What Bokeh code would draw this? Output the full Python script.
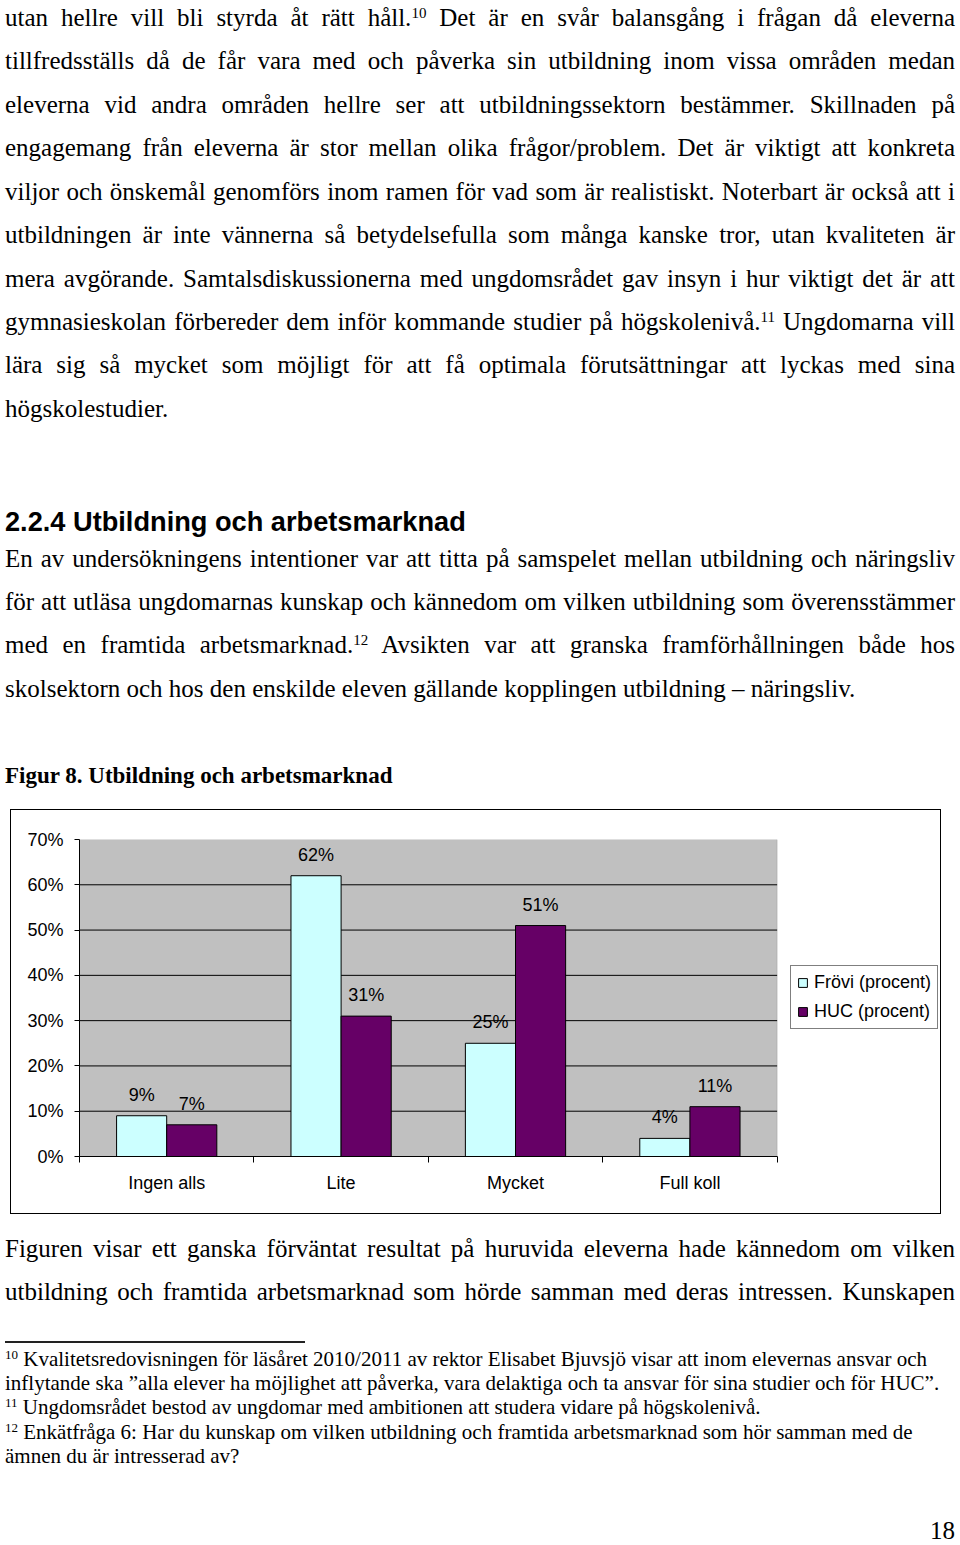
from bokeh.plotting import figure
from bokeh.models import (ColumnDataSource, Range1d, FixedTicker, NumeralTickFormatter,
                          Legend, LegendItem, Div, Spacer, BoxAnnotation)
from bokeh.layouts import column, row
from bokeh.transform import dodge
from bokeh.core.properties import value
from bokeh.embed import file_html
from bokeh.resources import INLINE

# ---------------- data ----------------
categories = ["Ingen alls", "Lite", "Mycket", "Full koll"]
frovi = [0.09, 0.62, 0.25, 0.04]
huc = [0.07, 0.31, 0.51, 0.11]
series_names = ["Frövi (procent)", "HUC (procent)"]
y_ticks = [0.0, 0.1, 0.2, 0.3, 0.4, 0.5, 0.6, 0.7]

top_lines = [
    "utan hellre vill bli styrda åt rätt håll.<sup>10</sup> Det är en svår balansgång i frågan då eleverna",
    "tillfredsställs då de får vara med och påverka sin utbildning inom vissa områden medan",
    "eleverna vid andra områden hellre ser att utbildningssektorn bestämmer. Skillnaden på",
    "engagemang från eleverna är stor mellan olika frågor/problem. Det är viktigt att konkreta",
    "viljor och önskemål genomförs inom ramen för vad som är realistiskt. Noterbart är också att i",
    "utbildningen är inte vännerna så betydelsefulla som många kanske tror, utan kvaliteten är",
    "mera avgörande. Samtalsdiskussionerna med ungdomsrådet gav insyn i hur viktigt det är att",
    "gymnasieskolan förbereder dem inför kommande studier på högskolenivå.<sup>11</sup> Ungdomarna vill",
    "lära sig så mycket som möjligt för att få optimala förutsättningar att lyckas med sina",
    "högskolestudier.",
]
heading = "2.2.4 Utbildning och arbetsmarknad"
mid_lines = [
    "En av undersökningens intentioner var att titta på samspelet mellan utbildning och näringsliv",
    "för att utläsa ungdomarnas kunskap och kännedom om vilken utbildning som överensstämmer",
    "med en framtida arbetsmarknad.<sup>12</sup> Avsikten var att granska framförhållningen både hos",
    "skolsektorn och hos den enskilde eleven gällande kopplingen utbildning – näringsliv.",
]
caption = "Figur 8. Utbildning och arbetsmarknad"
bottom_lines = [
    "Figuren visar ett ganska förväntat resultat på huruvida eleverna hade kännedom om vilken",
    "utbildning och framtida arbetsmarknad som hörde samman med deras intressen. Kunskapen",
]
footnotes = [
    "<fn>10</fn> Kvalitetsredovisningen för läsåret 2010/2011 av rektor Elisabet Bjuvsjö visar att inom elevernas ansvar och",
    "inflytande ska ”alla elever ha möjlighet att påverka, vara delaktiga och ta ansvar för sina studier och för HUC”.",
    "<fn>11</fn> Ungdomsrådet bestod av ungdomar med ambitionen att studera vidare på högskolenivå.",
    "<fn>12</fn> Enkätfråga 6: Har du kunskap om vilken utbildning och framtida arbetsmarknad som hör samman med de",
    "ämnen du är intresserad av?",
]
page_number = "18"

# ---------------- text helpers ----------------
SERIF = "Liberation Serif"
SANS = "Liberation Sans"
BODY_FS = 25.0


def line_html(text, baseline, offset, fs=BODY_FS, family=SERIF, justify=True, bold=False,
              H=40, asc=0.891, desc=0.216, width=950, left=0, align=None, nowrap=False):
    top = baseline - offset - (H / 2 + (asc - desc) / 2 * fs)
    text = text.replace("<sup>", '<span style="font-size:15px;vertical-align:8px;line-height:0;">')
    text = text.replace("</sup>", "</span>")
    text = text.replace("<fn>", '<span style="font-size:13px;vertical-align:7px;line-height:0;">')
    text = text.replace("</fn>", "</span>")
    if align is None:
        align = "justify" if justify else "left"
    last = "justify" if justify else align
    ws = "white-space:nowrap;" if nowrap else ""
    style = (f"position:absolute;left:{left}px;top:{top:.2f}px;width:{width}px;height:{H}px;"
             f"line-height:{H}px;font-family:'{family}';font-size:{fs}px;"
             f"font-weight:{'bold' if bold else 'normal'};color:#000;"
             f"text-align:{align};text-align-last:{last};margin:0;padding:0;{ws}")
    return f'<div style="{style}">{text}</div>'


# ---------------- top text ----------------
TOP_OFF = 8
TOP_H = 799
parts = []
for k, t in enumerate(top_lines):
    bl = 27.3 + 43.45 * k + 2
    parts.append(line_html(t, bl, TOP_OFF, justify=(k < len(top_lines) - 1), nowrap=(k == 4)))
parts.append(line_html(heading, 534, TOP_OFF, fs=27.2, family=SANS, bold=True, justify=False,
                       asc=0.905, desc=0.212))
for k, t in enumerate(mid_lines):
    bl = 570 + 43.35 * k
    parts.append(line_html(t, bl, TOP_OFF, justify=(k < len(mid_lines) - 1)))
parts.append(line_html(caption, 787, TOP_OFF, fs=23, bold=True, justify=False))
top_div = Div(text=f'<div style="position:relative;width:944px;height:{TOP_H}px;">{"".join(parts)}</div>',
              width=944, height=TOP_H)

# ---------------- bottom text ----------------
BOT_OFF = 1219
BOT_H = 333
parts = []
for k, t in enumerate(bottom_lines):
    parts.append(line_html(t, 1257 + 43 * k, BOT_OFF, justify=True))
parts.append(f'<div style="position:absolute;left:0px;top:{1341 - BOT_OFF}px;width:300px;height:1.5px;background:#222;"></div>')
fn_base = [1366, 1390, 1414.5, 1439, 1463]
for t, bl in zip(footnotes, fn_base):
    parts.append(line_html(t, bl, BOT_OFF, fs=21, justify=False, H=24))
parts.append(line_html(page_number, 1539, BOT_OFF, justify=False, align="right", H=2))
bottom_div = Div(text=f'<div style="position:relative;width:944px;height:{BOT_H}px;">{"".join(parts)}</div>',
                 width=944, height=BOT_H)

# ---------------- chart ----------------
n = len(categories)
source = ColumnDataSource(data=dict(
    xc=[i + 0.5 for i in range(n)],
    frovi=frovi,
    huc=huc,
    frovi_lbl=[f"{round(v * 100)}%" for v in frovi],
    huc_lbl=[f"{round(v * 100)}%" for v in huc],
))

FIG_W, FIG_H = 931, 405             # outer size including the 1px border
BL, BR, BT, BB = 68, 2, 29, 59
FRAME_W = FIG_W - 2 - BL - BR       # frame also holds the legend area
PLOT_W = 696                        # width of the grey plot area in px
x_end = n * FRAME_W / PLOT_W

p = figure(width=FIG_W, height=FIG_H, output_backend="svg", toolbar_location=None,
           x_range=Range1d(0, x_end), y_range=Range1d(0, y_ticks[-1]),
           min_border_left=BL, min_border_right=BR, min_border_top=BT, min_border_bottom=BB,
           background_fill_color="white", border_fill_color="white")
p.styles = {"border": "1px solid black"}
p.outline_line_color = None

# grey plot area
p.add_layout(BoxAnnotation(left=0, right=n, bottom=0, top=y_ticks[-1],
                           fill_color="#c0c0c0", fill_alpha=1,
                           line_color="#808080", line_width=1, level="underlay"))

# horizontal gridlines only across the plot area
grid_y = y_ticks[1:-1]
p.segment(x0=[0] * len(grid_y), x1=[n] * len(grid_y), y0=grid_y, y1=grid_y,
          line_color="black", line_width=1)

OFF = 0.1437
W = 0.2874
r1 = p.vbar(x=dodge("xc", -OFF, range=p.x_range), top="frovi", width=W, source=source,
            fill_color="#ccffff", line_color="black", line_width=1)
r2 = p.vbar(x=dodge("xc", OFF, range=p.x_range), top="huc", width=W, source=source,
            fill_color="#660066", line_color="black", line_width=1)

for col, d in (("frovi_lbl", -OFF), ("huc_lbl", OFF)):
    ycol = "frovi" if col == "frovi_lbl" else "huc"
    p.text(x=dodge("xc", d, range=p.x_range), y=ycol, text=col, source=source,
           text_font=value(SANS), text_font_size="18px", text_color="black",
           text_align="center", text_baseline="middle", y_offset=-21)

# y axis
p.yaxis.ticker = FixedTicker(ticks=y_ticks)
p.yaxis.formatter = NumeralTickFormatter(format="0%")
p.yaxis.major_tick_out = 5
p.yaxis.major_tick_in = 0
p.yaxis.minor_tick_line_color = None
p.yaxis.major_label_standoff = 11
p.yaxis.axis_line_color = "black"
p.yaxis.major_label_text_font = SANS
p.yaxis.major_label_text_font_size = "18px"
p.yaxis.major_label_text_color = "black"

# x axis
p.xaxis.bounds = (0, n)
p.xaxis.ticker = FixedTicker(ticks=[i + 0.5 for i in range(n)], minor_ticks=list(range(n + 1)))
p.xaxis.major_label_overrides = {i + 0.5: c for i, c in enumerate(categories)}
p.xaxis.major_tick_line_color = None
p.xaxis.major_tick_out = 0
p.xaxis.major_tick_in = 0
p.xaxis.minor_tick_out = 6
p.xaxis.minor_tick_in = 0
p.xaxis.minor_tick_line_color = "black"
p.xaxis.major_label_standoff = 10
p.xaxis.axis_line_color = "black"
p.xaxis.major_label_text_font = SANS
p.xaxis.major_label_text_font_size = "18px"
p.xaxis.major_label_text_color = "black"

p.xgrid.visible = False
p.ygrid.visible = False

legend = Legend(items=[LegendItem(label=series_names[0], renderers=[r1]),
                       LegendItem(label=series_names[1], renderers=[r2])],
                location=(PLOT_W + 15, 127))
legend.border_line_color = "black"
legend.border_line_width = 1
legend.background_fill_color = "white"
legend.background_fill_alpha = 1
legend.label_text_font = SANS
legend.label_text_font_size = "18px"
legend.label_text_color = "black"
legend.glyph_width = 11
legend.glyph_height = 11
legend.label_standoff = 6
legend.label_height = 21
legend.spacing = 8
legend.padding = 6
legend.margin = 0
p.add_layout(legend)

layout = column(top_div, row(Spacer(width=10, height=FIG_H), p), bottom_div, spacing=0)

open("out.html", "w").write(file_html(layout, INLINE))
